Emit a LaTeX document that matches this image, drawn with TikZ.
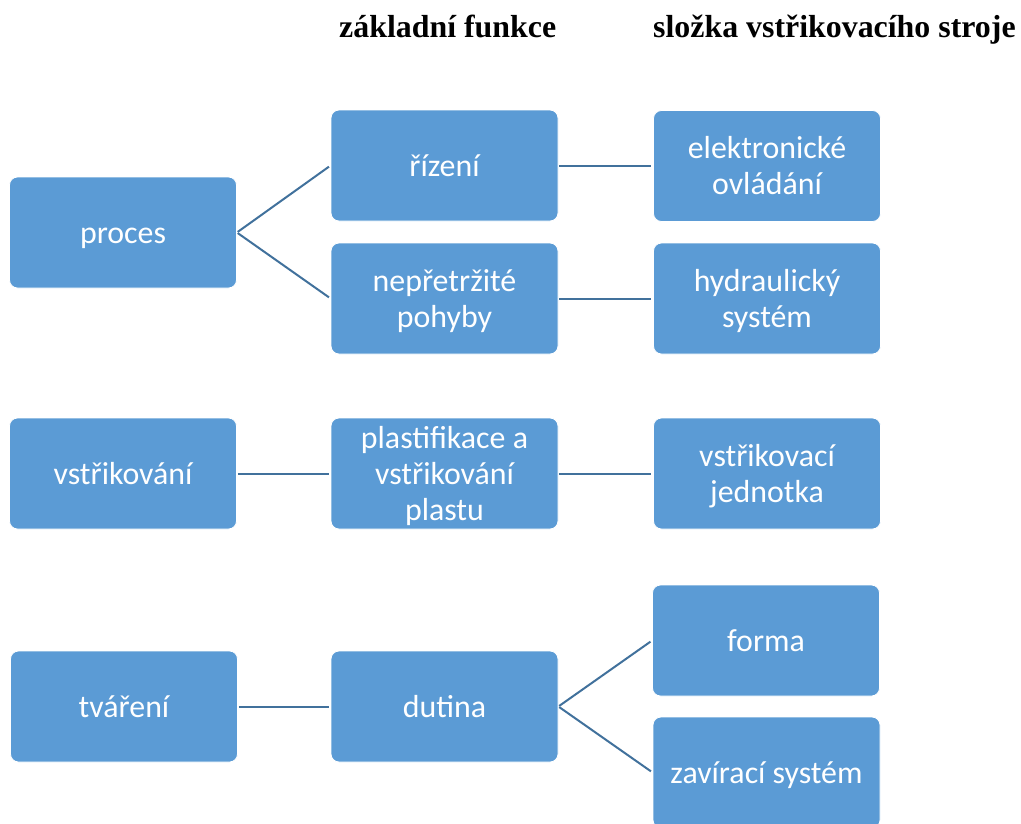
\documentclass[tikz,border=0pt]{standalone}
\usepackage{fontspec}
\setmainfont{Carlito}
\newfontfamily\headfont{Liberation Serif}
\definecolor{boxfill}{HTML}{5B9BD5}
\definecolor{linecol}{HTML}{41719C}
\newcommand\lnstrut{\rule[-7bp]{0pt}{35bp}}
\tikzset{
  blockbox/.style={rectangle, rounded corners=8bp, fill=boxfill, draw=white, line width=0.8bp,
    minimum width=227bp, minimum height=111bp, inner sep=0pt, align=center,
    text=white, font=\fontsize{32}{35}\selectfont},
  headtext/.style={anchor=base west, inner sep=0pt, font=\headfont\bfseries\fontsize{32}{36}\selectfont},
  link/.style={draw=linecol, line width=2bp, shorten >=2bp, shorten <=1bp}
}
\begin{document}
\begin{tikzpicture}[x=1bp,y=-1bp]
\useasboundingbox (0,0) rectangle (1021,824);
\node[headtext] (h1) at (339,37) {základní funkce};
\node[headtext] (h2) at (653,37) {složka vstřikovacího stroje};

\node[blockbox] (proces) at (123,232.5) {\lnstrut proces};
\node[blockbox] (rizeni) at (444.5,165.5) {\lnstrut řízení};
\node[blockbox] (pohyby) at (444.5,298.5) {\lnstrut nepřetržité\\\lnstrut pohyby};
\node[blockbox] (elektro) at (767,166) {\lnstrut elektronické\\\lnstrut ovládání};
\node[blockbox] (hydro) at (767,298.5) {\lnstrut hydraulický\\\lnstrut systém};

\node[blockbox] (vstrik) at (123,473.5) {\lnstrut vstřikování};
\node[blockbox] (plast) at (444.5,473.5) {\lnstrut plastifikace a\\\lnstrut vstřikování\\\lnstrut plastu};
\node[blockbox] (jednotka) at (767,473.5) {\lnstrut vstřikovací\\\lnstrut jednotka};

\node[blockbox] (tvareni) at (124,706.5) {\lnstrut tváření};
\node[blockbox] (dutina) at (444.5,706.5) {\lnstrut dutina};
\node[blockbox] (forma) at (766,640.5) {\lnstrut forma};
\node[blockbox] (zavir) at (766.5,772.5) {\lnstrut zavírací systém};

\draw[link] (proces.east) -- (rizeni.west);
\draw[link] (proces.east) -- (pohyby.west);
\draw[link] (rizeni.east) -- (elektro.west |- rizeni.east);
\draw[link] (pohyby.east) -- (hydro.west |- pohyby.east);
\draw[link] (vstrik.east) -- (plast.west);
\draw[link] (plast.east) -- (jednotka.west);
\draw[link] (tvareni.east) -- (dutina.west);
\draw[link] (dutina.east) -- (forma.west);
\draw[link] (dutina.east) -- (zavir.west);
\end{tikzpicture}
\end{document}
